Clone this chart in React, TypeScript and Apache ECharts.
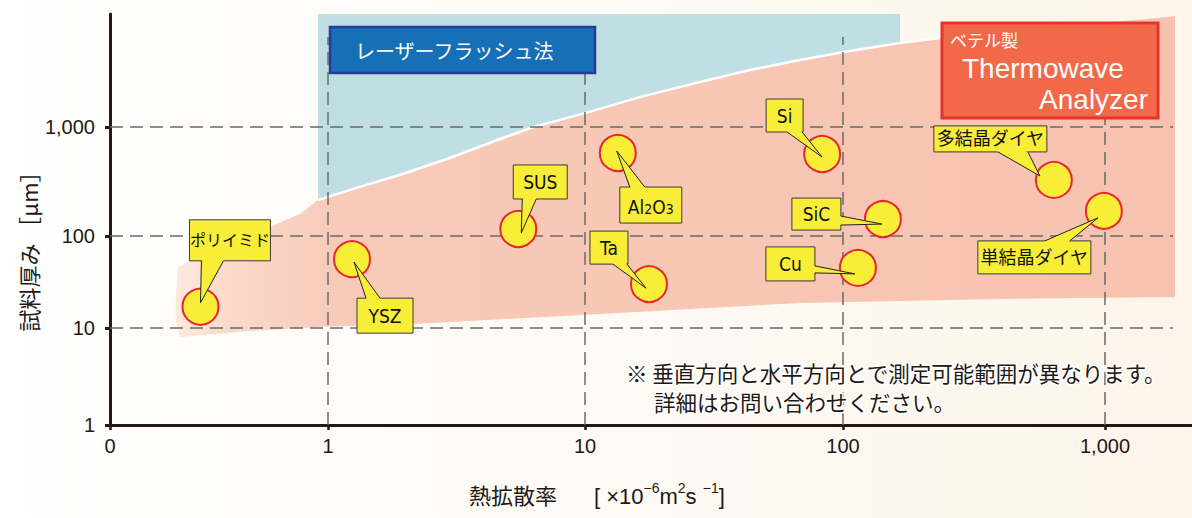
import React, { useEffect, useRef } from "react";
import * as echarts from "echarts";

// ---------- data ----------
const materials = ["ポリイミド", "YSZ", "SUS", "Al2O3", "Ta", "Si", "SiC", "Cu", "多結晶ダイヤ", "単結晶ダイヤ"];
// thermal diffusivity [x10^-6 m2/s]
const diffusivity = [0.26, 1.24, 5.5, 13.4, 17.7, 83, 142, 114, 638, 990];
// sample thickness [µm]
const thickness = [17, 56, 116, 577, 30, 565, 143, 45, 327, 170];

const xTickValues = [0, 1, 10, 100, 1000];
const xTickLabels = ["0", "1", "10", "100", "1,000"];
const yTickValues = [1, 10, 100, 1000];
const yTickLabels = ["1", "10", "100", "1,000"];

// boundary shared by the two measurable ranges
const boundaryDiff = [0.9, 1.33, 1.9, 2.98, 4.67, 6.3, 10, 16.3, 27.9, 43.6, 68, 106, 165, 234];
const boundaryThick = [214, 282, 363, 520, 776, 1000, 1340, 1880, 2590, 3330, 4120, 4980, 5900, 6560];
const plotTopThickness = 10900;
const laserRightDiff = 165;

// Thermowave range outline (besides the shared boundary)
const twLeftDiff = [0.205, 0.32, 0.525, 0.745];
const twLeftThick = [46, 76, 118, 160];
const twRightDiff = [1850, 1850, 398, 68, 11.4, 2.08, 0.92, 0.44, 0.21, 0.2, 0.2];
const twRightThick = [10400, 21.7, 20.7, 18.7, 14.2, 11, 10.3, 9.3, 8.1, 12.2, 20.1];

const xGridValues = [1, 10, 100, 1000];
const yGridValues = [10, 100, 1000];
const gridTopThickness = 6700;
const gridRightDiff = 1820;

// ---------- layout of callouts (pixels relative to the point) ----------
const calloutBox = [
  [-11, -87, 81, 41], [5, 39, 56, 35], [-5, -64, 54, 34], [2, 34, 62, 36], [-59, -53, 38, 33],
  [-56, -55, 37, 33], [-91, -21, 49, 32], [-92, -21, 49, 34], [-120, -54, 113, 26], [-126, 30, 113, 33],
];
const calloutPointer = [
  [1, -46, 23, -46, 0, -4], [14, 39, 28, 39, 2, 3], [4, -30, 18, -30, 3, 4], [12, 34, 27, 34, -1, -2],
  [-36, -20, -22, -20, -3, 4], [-35, -22, -20, -22, 0, 3], [-42, -3, -42, 6, -1, 5], [-43, -2, -43, 5, -3, 6],
  [-56, -28, -26, -28, -14, -4], [-59, 30, -34, 30, -6, 7],
];
const calloutFontSize = [16, 19, 19, 19, 19, 19, 19, 19, 18, 18];

// ---------- custom scale (hand-drawn log axes) ----------
const XL = [-1, 0, 1, 2, 3];
const XC = [0, 218, 475, 733, 995];
const YL = [0, 1, 2, 3];
const YC = [0, 97, 189, 298];
function interp(l: number, L: number[], C: number[]) {
  let i = 0;
  while (i < L.length - 2 && l > L[i + 1]) i++;
  return C[i] + ((l - L[i]) * (C[i + 1] - C[i])) / (L[i + 1] - L[i]);
}
const fx = (v: number) => (v <= 0 ? 0 : interp(Math.log10(v), XL, XC));
const fy = (v: number) => interp(Math.log10(v), YL, YC);

const TEXT = "#231815";
const SANS = "'Liberation Sans', Arial, sans-serif";
const JP = "'Noto Sans CJK JP', sans-serif";
const LABEL_FONT = "'Liberation Sans Narrow', 'DejaVu Sans Condensed', 'Noto Sans CJK JP', sans-serif";
const YELLOW = "#f8ed37";

export default function App() {
  const ref = useRef<HTMLDivElement>(null);
  useEffect(() => {
    if (!ref.current) return;
    const chart = echarts.init(ref.current, null, { renderer: "svg" });

    const xTickCoords = xTickValues.map(fx);
    const yTickCoords = yTickValues.map(fy);
    const fmt = (coords: number[], labels: string[]) => (v: number) => {
      const i = coords.findIndex((c) => Math.abs(c - v) < 0.01);
      return i >= 0 ? labels[i] : "";
    };

    const boundary = boundaryDiff.map((d, i) => [fx(d), fy(boundaryThick[i])]);
    const laserPts: number[][] = [
      [fx(boundaryDiff[0]), fy(plotTopThickness)],
      [fx(laserRightDiff), fy(plotTopThickness)],
      ...boundary.filter((p) => p[0] <= fx(laserRightDiff) + 0.01).reverse(),
    ];
    const twPts: number[][] = [
      ...twLeftDiff.map((d, i) => [fx(d), fy(twLeftThick[i])]),
      ...boundary,
      ...twRightDiff.map((d, i) => [fx(d), fy(twRightThick[i])]),
    ];

    const polySeries = (name: string, pts: number[][], style: any, z: number) => ({
      type: "custom",
      name,
      z,
      silent: true,
      data: pts,
      renderItem: (params: any, api: any) => {
        if (params.dataIndex !== 0) return null;
        return {
          type: "polygon",
          shape: { points: pts.map((p) => api.coord(p)) },
          style,
        };
      },
    });

    const gridData = [
      ...xGridValues.map((v) => [fx(v), fy(1), fx(v), fy(gridTopThickness)]),
      ...yGridValues.map((v) => [fx(0), fy(v), fx(gridRightDiff), fy(v)]),
    ];

    const pointData = diffusivity.map((d, i) => [fx(d), fy(thickness[i]), i]);

    const option: any = {
      animation: false,
      grid: { left: 110, right: 0, top: 14, bottom: 93 },
      xAxis: {
        type: "value",
        min: 0,
        max: 1082,
        axisLine: { show: true, onZero: false, lineStyle: { color: TEXT, width: 3 } },
        axisTick: { show: true, length: 5, customValues: xTickCoords, lineStyle: { color: TEXT, width: 2.5 } },
        axisLabel: {
          customValues: xTickCoords,
          formatter: fmt(xTickCoords, xTickLabels),
          fontSize: 20,
          fontFamily: SANS,
          color: TEXT,
          margin: 11,
        },
        splitLine: { show: false },
      },
      yAxis: {
        type: "value",
        min: 0,
        max: 411,
        axisLine: { show: true, onZero: false, lineStyle: { color: TEXT, width: 3 } },
        axisTick: { show: true, length: 5, customValues: yTickCoords, lineStyle: { color: TEXT, width: 3 } },
        axisLabel: {
          customValues: yTickCoords,
          formatter: fmt(yTickCoords, yTickLabels),
          fontSize: 20,
          fontFamily: SANS,
          color: TEXT,
          margin: 15,
        },
        splitLine: { show: false },
      },
      series: [
        polySeries(
          "Thermowave Analyzer",
          twPts,
          {
            fill: new echarts.graphic.LinearGradient(0, 0, 1, 0, [
              { offset: 0, color: "#fde9de" },
              { offset: 0.05, color: "#fbdacb" },
              { offset: 0.16, color: "#f8cab8" },
              { offset: 1, color: "#f7c3b0" },
            ]),
          },
          1
        ),
        polySeries("レーザーフラッシュ法", laserPts, { fill: "#c0dfe4" }, 1),
        {
          type: "custom",
          name: "boundary",
          z: 1.5,
          silent: true,
          data: boundary,
          renderItem: (params: any, api: any) => {
            if (params.dataIndex !== 0) return null;
            return {
              type: "polyline",
              shape: { points: boundary.map((p) => api.coord(p)) },
              style: { stroke: "#ffffff", lineWidth: 2.5, fill: "none" },
            };
          },
        },
        {
          type: "custom",
          name: "grid",
          z: 2,
          silent: true,
          data: gridData,
          renderItem: (params: any, api: any) => {
            const a = api.coord([api.value(0), api.value(1)]);
            const b = api.coord([api.value(2), api.value(3)]);
            return {
              type: "line",
              shape: { x1: a[0], y1: a[1], x2: b[0], y2: b[1] },
              style: { stroke: "#6a6a6a", lineWidth: 1.5, lineDash: [13, 7] },
            };
          },
        },
        {
          type: "custom",
          name: "materials",
          z: 5,
          data: pointData,
          renderItem: (params: any, api: any) => {
            const i = params.dataIndex;
            const p = api.coord([api.value(0), api.value(1)]);
            const [dx, dy, w, h] = calloutBox[i];
            const [b1x, b1y, b2x, b2y, tx, ty] = calloutPointer[i];
            const bx = p[0] + dx, by = p[1] + dy;
            const bcx = bx + w / 2, bcy = by + h / 2;
            const b1 = [p[0] + b1x, p[1] + b1y];
            const b2 = [p[0] + b2x, p[1] + b2y];
            const tip = [p[0] + tx, p[1] + ty];
            const inward = (q: number[]) => {
              const vx = bcx - q[0], vy = bcy - q[1];
              const n = Math.hypot(vx, vy) || 1;
              return [q[0] + (vx / n) * 2.5, q[1] + (vy / n) * 2.5];
            };
            const name = materials[i];
            const fs = calloutFontSize[i];
            const textStyle: any =
              name === "Al2O3"
                ? {
                    text: "{n|Al}{s|2}{n|O}{s|3}",
                    rich: {
                      n: { fontSize: fs, fontFamily: LABEL_FONT, fill: "#111", verticalAlign: "bottom", lineHeight: 22 },
                      s: { fontSize: 14, fontFamily: LABEL_FONT, fill: "#111", verticalAlign: "bottom", lineHeight: 22 },
                    },
                  }
                : { text: name, fontSize: fs, fontFamily: LABEL_FONT, fill: "#111" };
            return {
              type: "group",
              children: [
                {
                  type: "circle",
                  shape: { cx: p[0], cy: p[1], r: 18 },
                  style: { fill: YELLOW, stroke: "#e8262d", lineWidth: 2 },
                },
                {
                  type: "rect",
                  shape: { x: bx, y: by, width: w, height: h },
                  style: { fill: YELLOW, stroke: "#3a3a3a", lineWidth: 1 },
                },
                {
                  type: "polygon",
                  shape: { points: [inward(b1), b1, tip, b2, inward(b2)] },
                  style: { fill: YELLOW, stroke: "none" },
                },
                {
                  type: "polyline",
                  shape: { points: [b1, tip, b2] },
                  style: { fill: "none", stroke: "#222", lineWidth: 1 },
                },
                {
                  type: "text",
                  x: bcx,
                  y: bcy,
                  style: { ...textStyle, align: "center", verticalAlign: "middle" },
                },
              ],
            };
          },
        },
      ],
      graphic: [
        {
          type: "rect",
          z: 50,
          shape: { x: 330, y: 27, width: 265, height: 46 },
          style: { fill: "#1570b7", stroke: "#2b3b95", lineWidth: 2.5 },
        },
        {
          type: "text",
          z: 51,
          x: 355,
          y: 50,
          style: { text: "レーザーフラッシュ法", fill: "#ffffff", fontSize: 20, fontFamily: JP, verticalAlign: "middle" },
        },
        {
          type: "rect",
          z: 50,
          shape: { x: 942, y: 23, width: 216, height: 95 },
          style: { fill: "#f2694a", stroke: "#e8332b", lineWidth: 3 },
        },
        {
          type: "text",
          z: 51,
          x: 950,
          y: 39,
          style: { text: "ベテル製", fill: "#ffffff", fontSize: 17, fontFamily: JP, verticalAlign: "middle" },
        },
        {
          type: "text",
          z: 51,
          x: 962,
          y: 68,
          style: { text: "Thermowave", fill: "#ffffff", fontSize: 28, fontFamily: SANS, verticalAlign: "middle" },
        },
        {
          type: "text",
          z: 51,
          x: 1148,
          y: 99,
          style: { text: "Analyzer", fill: "#ffffff", fontSize: 28, fontFamily: SANS, align: "right", verticalAlign: "middle" },
        },
        {
          type: "text",
          z: 51,
          x: 626,
          y: 372,
          style: {
            text: "※ 垂直方向と水平方向とで測定可能範囲が異なります。",
            fill: TEXT,
            fontSize: 21.5,
            lineHeight: 24,
            fontFamily: JP,
            verticalAlign: "middle",
            stroke: "#ffffff",
            lineWidth: 3,
          },
        },
        {
          type: "text",
          z: 51,
          x: 654,
          y: 401,
          style: {
            text: "詳細はお問い合わせください。",
            fill: TEXT,
            fontSize: 21.5,
            lineHeight: 24,
            fontFamily: JP,
            verticalAlign: "middle",
            stroke: "#ffffff",
            lineWidth: 3,
          },
        },
        {
          type: "text",
          z: 51,
          x: 28,
          y: 246,
          rotation: Math.PI / 2,
          style: {
            text: "試料厚み ［μm］",
            fill: TEXT,
            fontSize: 22,
            fontFamily: JP,
            align: "center",
            verticalAlign: "middle",
          },
        },
        {
          type: "text",
          z: 51,
          x: 469,
          y: 494,
          style: { text: "熱拡散率", fill: TEXT, fontSize: 22, fontFamily: JP, verticalAlign: "middle" },
        },
        {
          type: "text",
          z: 51,
          x: 594,
          y: 494,
          style: {
            text: "{a|[ ×10}{s|−6}{a|m}{s|2}{a|s }{s|−1}{a|]}",
            verticalAlign: "middle",
            rich: {
              a: { fontSize: 22, fontFamily: SANS, fill: TEXT, lineHeight: 26, verticalAlign: "bottom" },
              s: { fontSize: 14, fontFamily: SANS, fill: TEXT, lineHeight: 13, verticalAlign: "top" },
            },
          },
        },
      ],
    };

    chart.setOption(option);
    return () => chart.dispose();
  }, []);

  return (
    <div
      ref={ref}
      style={{
        position: "absolute",
        left: 0,
        top: 0,
        width: 1192,
        height: 518,
        background: "linear-gradient(to right, #ffffff 0%, #fefcf8 35%, #fdf5ea 100%)",
      }}
    />
  );
}
